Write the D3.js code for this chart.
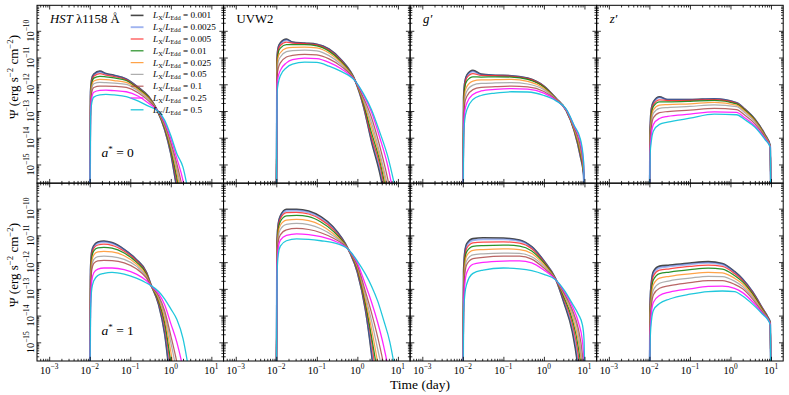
<!DOCTYPE html>
<html><head><meta charset="utf-8">
<script src="https://cdn.jsdelivr.net/npm/d3@7"></script>
<style>
body{margin:0;background:#fff}
svg{display:block}
text{font-family:"Liberation Serif","DejaVu Serif",serif;fill:#000}
</style>
</head><body>
<svg id="c" width="789" height="395"></svg>
<script>
// ---------------- DATA ----------------
const ratios = ["0.001","0.0025","0.005","0.01","0.025","0.05","0.1","0.25","0.5"];
const bands = ["HST λ1158 Å","UVW2","g′","z′"];
const spins = ["0","1"];
const xMajor = [1e-3,1e-2,1e-1,1,10];
const yMajor = [1e-15,1e-14,1e-13,1e-12,1e-11,1e-10];

// log10(time/day) grids and log10(Psi) values per panel (rows = ratios)
const gHST0 = [-2.0,-1.98,-1.95,-1.9,-1.75,-1.6,-1.4,-1.1,-0.8,-0.55,-0.34,-0.15,0.0,0.15,0.3,0.45];
const hstA0 = [
 [-17,-12.3,-11.8,-11.62,-11.51,-11.6,-11.66,-11.8,-12.12,-12.45,-12.96,-13.7,-14.6,-15.9,-17,-18],
 [-17,-12.35,-11.84,-11.65,-11.54,-11.62,-11.68,-11.81,-12.13,-12.46,-12.96,-13.68,-14.55,-15.8,-17,-18],
 [-17,-12.4,-11.9,-11.7,-11.6,-11.66,-11.71,-11.83,-12.15,-12.47,-12.96,-13.66,-14.5,-15.65,-17,-18],
 [-17,-12.45,-11.95,-11.77,-11.7,-11.72,-11.76,-11.86,-12.17,-12.49,-12.96,-13.63,-14.45,-15.5,-16.9,-18],
 [-17,-12.55,-12.05,-11.88,-11.82,-11.83,-11.86,-11.93,-12.21,-12.52,-12.96,-13.58,-14.35,-15.3,-16.6,-18],
 [-17,-12.65,-12.15,-11.98,-11.93,-11.94,-11.96,-12.0,-12.26,-12.56,-12.96,-13.54,-14.27,-15.15,-16.3,-17.8],
 [-17,-12.8,-12.3,-12.12,-12.07,-12.07,-12.08,-12.12,-12.33,-12.62,-12.96,-13.48,-14.17,-14.98,-16.0,-17.5],
 [-17,-13.0,-12.5,-12.3,-12.23,-12.22,-12.24,-12.28,-12.45,-12.71,-12.96,-13.42,-14.04,-14.78,-15.6,-17],
 [-17,-13.2,-12.7,-12.48,-12.4,-12.38,-12.4,-12.46,-12.63,-12.82,-12.97,-13.35,-13.92,-14.6,-15.1,-16.2]
];
const gUVW0 = [-2.0,-1.98,-1.95,-1.9,-1.75,-1.6,-1.3,-1.0,-0.7,-0.4,-0.05,0.15,0.35,0.55,0.75,0.95];
const uvwA0 = [
 [-17,-11.0,-10.6,-10.45,-10.31,-10.42,-10.46,-10.5,-10.68,-11.08,-11.88,-12.82,-14.15,-15.3,-16.8,-18],
 [-17,-11.05,-10.65,-10.5,-10.35,-10.44,-10.47,-10.51,-10.7,-11.1,-11.88,-12.8,-14.07,-15.15,-16.6,-18],
 [-17,-11.1,-10.7,-10.55,-10.42,-10.46,-10.48,-10.53,-10.72,-11.12,-11.88,-12.77,-13.98,-15.0,-16.5,-18],
 [-17,-11.2,-10.8,-10.65,-10.52,-10.52,-10.52,-10.56,-10.76,-11.15,-11.88,-12.72,-13.82,-14.85,-16.3,-18],
 [-17,-11.3,-10.95,-10.82,-10.65,-10.62,-10.61,-10.64,-10.83,-11.2,-11.88,-12.65,-13.62,-14.7,-16.05,-17.8],
 [-17,-11.5,-11.15,-10.98,-10.78,-10.74,-10.72,-10.75,-10.93,-11.26,-11.88,-12.58,-13.45,-14.55,-15.85,-17.5],
 [-17,-11.7,-11.4,-11.2,-10.98,-10.92,-10.88,-10.9,-11.05,-11.33,-11.88,-12.5,-13.25,-14.3,-15.55,-17.2],
 [-17,-12.0,-11.7,-11.48,-11.2,-11.08,-11.02,-11.04,-11.18,-11.42,-11.88,-12.4,-13.05,-13.98,-15.05,-16.6],
 [-17,-12.3,-11.95,-11.68,-11.38,-11.25,-11.17,-11.18,-11.32,-11.52,-11.88,-12.35,-12.95,-13.78,-14.7,-16.0]
];
const gG0 = [-2.0,-1.98,-1.95,-1.9,-1.75,-1.55,-1.2,-0.8,-0.4,0.0,0.3,0.55,0.75,0.9,0.98,1.0];
const gA0 = [
 [-17,-12.5,-11.9,-11.65,-11.48,-11.62,-11.66,-11.68,-11.77,-12.07,-12.53,-12.98,-13.75,-14.7,-15.4,-17],
 [-17,-12.55,-11.95,-11.7,-11.52,-11.64,-11.67,-11.69,-11.78,-12.07,-12.53,-12.98,-13.74,-14.67,-15.38,-17],
 [-17,-12.65,-12.0,-11.75,-11.6,-11.67,-11.68,-11.7,-11.79,-12.08,-12.53,-12.98,-13.73,-14.63,-15.35,-17],
 [-17,-12.75,-12.1,-11.87,-11.72,-11.73,-11.72,-11.73,-11.82,-12.1,-12.54,-12.97,-13.72,-14.58,-15.3,-17],
 [-17,-12.9,-12.3,-12.08,-11.88,-11.84,-11.83,-11.82,-11.89,-12.15,-12.55,-12.97,-13.7,-14.5,-15.25,-17],
 [-17,-13.1,-12.5,-12.25,-12.03,-11.97,-11.95,-11.94,-11.99,-12.2,-12.56,-12.96,-13.66,-14.4,-15.2,-17],
 [-17,-13.3,-12.7,-12.45,-12.2,-12.12,-12.09,-12.07,-12.1,-12.27,-12.58,-12.95,-13.62,-14.3,-15.1,-17],
 [-17,-13.6,-13.0,-12.7,-12.38,-12.25,-12.19,-12.16,-12.18,-12.33,-12.6,-12.95,-13.58,-14.15,-15.0,-17],
 [-17,-13.9,-13.3,-12.95,-12.57,-12.42,-12.33,-12.28,-12.29,-12.42,-12.62,-12.93,-13.55,-14.05,-14.9,-17]
];
const gZ0 = [-2.0,-1.98,-1.95,-1.9,-1.75,-1.55,-1.0,-0.4,0.15,0.35,0.6,0.85,0.98,1.0];
const zA0 = [
 [-17,-13.6,-12.9,-12.65,-12.47,-12.57,-12.57,-12.54,-12.69,-12.92,-13.3,-13.88,-14.3,-17],
 [-17,-13.7,-12.95,-12.7,-12.5,-12.58,-12.58,-12.55,-12.7,-12.93,-13.31,-13.89,-14.3,-17],
 [-17,-13.75,-13.0,-12.75,-12.58,-12.61,-12.6,-12.57,-12.71,-12.94,-13.32,-13.9,-14.31,-17],
 [-17,-13.85,-13.1,-12.83,-12.66,-12.66,-12.64,-12.6,-12.73,-12.96,-13.33,-13.91,-14.31,-17],
 [-17,-14.0,-13.25,-12.95,-12.78,-12.76,-12.73,-12.68,-12.78,-13.0,-13.36,-13.93,-14.32,-17],
 [-17,-14.1,-13.4,-13.08,-12.9,-12.87,-12.83,-12.77,-12.84,-13.06,-13.4,-13.96,-14.32,-17],
 [-17,-14.25,-13.6,-13.25,-13.06,-13.02,-12.97,-12.9,-12.95,-13.15,-13.47,-13.99,-14.33,-17],
 [-17,-14.4,-13.85,-13.5,-13.28,-13.2,-13.12,-13.03,-13.05,-13.25,-13.55,-14.03,-14.34,-17],
 [-17,-14.6,-14.1,-13.75,-13.5,-13.42,-13.27,-13.12,-13.14,-13.32,-13.6,-14.06,-14.35,-17]
];
const gHST1 = [-2.0,-1.98,-1.95,-1.9,-1.8,-1.65,-1.45,-1.15,-0.85,-0.6,-0.5,-0.3,-0.15,0.0,0.15,0.3,0.45];
const hstA1 = [
 [-17,-12.3,-11.6,-11.38,-11.25,-11.21,-11.27,-11.52,-11.9,-12.38,-12.8,-13.6,-14.7,-16.6,-18,-19,-20],
 [-17,-12.35,-11.65,-11.42,-11.29,-11.25,-11.3,-11.54,-11.92,-12.4,-12.81,-13.55,-14.6,-16.4,-18,-19,-20],
 [-17,-12.45,-11.72,-11.48,-11.36,-11.33,-11.37,-11.59,-11.95,-12.42,-12.82,-13.5,-14.4,-16.0,-17.8,-19,-20],
 [-17,-12.55,-11.82,-11.58,-11.47,-11.45,-11.48,-11.66,-12.0,-12.45,-12.83,-13.45,-14.27,-15.75,-17.5,-19,-20],
 [-17,-12.7,-11.98,-11.73,-11.62,-11.6,-11.62,-11.76,-12.07,-12.5,-12.84,-13.38,-14.1,-15.35,-16.9,-18.5,-20],
 [-17,-12.85,-12.15,-11.9,-11.79,-11.78,-11.79,-11.9,-12.15,-12.55,-12.85,-13.32,-13.95,-15.0,-16.2,-18,-20],
 [-17,-13.0,-12.3,-12.05,-11.95,-11.93,-11.94,-12.03,-12.25,-12.6,-12.86,-13.26,-13.83,-14.75,-15.75,-17,-18.5],
 [-17,-13.5,-12.7,-12.4,-12.26,-12.22,-12.22,-12.28,-12.45,-12.7,-12.86,-13.18,-13.6,-14.3,-15.0,-16.0,-17.5],
 [-17,-13.8,-13.0,-12.7,-12.5,-12.42,-12.38,-12.45,-12.6,-12.78,-12.87,-13.1,-13.38,-13.75,-14.15,-14.85,-16.1]
];
const gUVW1 = [-2.0,-1.98,-1.95,-1.9,-1.75,-1.5,-1.2,-0.9,-0.6,-0.22,0.0,0.2,0.35,0.5,0.65,0.8,0.95];
const uvwA1 = [
 [-17,-11.2,-10.55,-10.27,-10.02,-10.02,-10.09,-10.3,-10.68,-11.53,-12.38,-13.8,-15.45,-17.5,-19,-20,-21],
 [-17,-11.25,-10.6,-10.32,-10.08,-10.07,-10.14,-10.35,-10.72,-11.53,-12.35,-13.75,-15.3,-17.3,-19,-20,-21],
 [-17,-11.3,-10.66,-10.38,-10.15,-10.14,-10.2,-10.41,-10.77,-11.53,-12.3,-13.65,-14.95,-16.8,-18.5,-20,-21],
 [-17,-11.4,-10.75,-10.48,-10.27,-10.25,-10.3,-10.5,-10.84,-11.53,-12.25,-13.55,-14.8,-16.2,-18,-20,-21],
 [-17,-11.55,-10.88,-10.62,-10.43,-10.4,-10.45,-10.62,-10.93,-11.53,-12.2,-13.4,-14.5,-15.75,-17.2,-19,-21],
 [-17,-11.7,-11.03,-10.78,-10.59,-10.55,-10.6,-10.75,-11.01,-11.53,-12.15,-13.25,-14.2,-15.25,-16.35,-18,-20],
 [-17,-11.9,-11.22,-10.98,-10.79,-10.74,-10.78,-10.9,-11.1,-11.53,-12.1,-13.1,-13.9,-14.8,-15.85,-17.2,-19],
 [-17,-12.1,-11.45,-11.18,-11.0,-10.94,-10.97,-11.05,-11.19,-11.53,-12.03,-12.85,-13.5,-14.25,-15.15,-16.3,-18],
 [-17,-12.4,-11.7,-11.4,-11.2,-11.13,-11.15,-11.2,-11.27,-11.53,-11.96,-12.45,-12.9,-13.45,-14.18,-14.98,-16.2]
];
const gG1 = [-2.0,-1.98,-1.95,-1.9,-1.75,-1.5,-1.0,-0.6,-0.3,0.0,0.28,0.5,0.7,0.85,0.95,0.99,1.01];
const gA1 = [
 [-17,-12.3,-11.6,-11.3,-11.12,-11.09,-11.1,-11.17,-11.42,-11.95,-12.6,-13.55,-14.6,-16.1,-18,-19,-20],
 [-17,-12.4,-11.68,-11.37,-11.18,-11.15,-11.15,-11.21,-11.45,-11.96,-12.6,-13.48,-14.45,-15.8,-17.5,-18.5,-20],
 [-17,-12.5,-11.78,-11.47,-11.28,-11.25,-11.24,-11.29,-11.5,-11.99,-12.61,-13.4,-14.3,-15.5,-17,-18,-20],
 [-17,-12.6,-11.9,-11.6,-11.41,-11.38,-11.36,-11.4,-11.58,-12.03,-12.61,-13.33,-14.15,-15.2,-16.5,-17.5,-20],
 [-17,-12.8,-12.05,-11.75,-11.56,-11.53,-11.5,-11.53,-11.68,-12.09,-12.62,-13.25,-14.0,-14.95,-16.1,-17,-20],
 [-17,-13.0,-12.25,-11.93,-11.73,-11.69,-11.66,-11.67,-11.8,-12.15,-12.62,-13.2,-13.88,-14.7,-15.85,-16.5,-20],
 [-17,-13.2,-12.45,-12.08,-11.87,-11.82,-11.78,-11.78,-11.89,-12.22,-12.63,-13.15,-13.78,-14.5,-15.45,-16.2,-20],
 [-17,-13.5,-12.8,-12.38,-12.08,-12.01,-11.96,-11.95,-12.03,-12.3,-12.64,-13.1,-13.65,-14.25,-14.95,-15.9,-18],
 [-17,-13.9,-13.2,-12.8,-12.42,-12.3,-12.22,-12.25,-12.32,-12.46,-12.65,-13.05,-13.55,-13.95,-14.35,-14.9,-17]
];
const gZ1 = [-2.0,-1.98,-1.95,-1.9,-1.75,-1.5,-1.0,-0.55,-0.2,0.1,0.3,0.55,0.8,0.92,0.98,1.0];
const zA1 = [
 [-17,-13.4,-12.75,-12.35,-12.15,-12.11,-12.03,-11.98,-12.05,-12.35,-12.63,-13.12,-13.75,-14.05,-14.25,-17],
 [-17,-13.5,-12.82,-12.42,-12.21,-12.16,-12.08,-12.03,-12.09,-12.38,-12.65,-13.13,-13.76,-14.06,-14.26,-17],
 [-17,-13.6,-12.93,-12.52,-12.3,-12.25,-12.16,-12.11,-12.16,-12.43,-12.69,-13.16,-13.77,-14.07,-14.27,-17],
 [-17,-13.75,-13.07,-12.66,-12.43,-12.37,-12.28,-12.22,-12.26,-12.5,-12.74,-13.2,-13.8,-14.08,-14.28,-17],
 [-17,-13.9,-13.25,-12.84,-12.6,-12.53,-12.44,-12.38,-12.4,-12.6,-12.82,-13.26,-13.83,-14.1,-14.3,-17],
 [-17,-14.1,-13.45,-13.03,-12.79,-12.7,-12.6,-12.53,-12.54,-12.71,-12.91,-13.32,-13.86,-14.11,-14.31,-17],
 [-17,-14.3,-13.65,-13.22,-12.98,-12.88,-12.77,-12.69,-12.69,-12.83,-13.0,-13.39,-13.9,-14.12,-14.32,-17],
 [-17,-14.6,-13.9,-13.5,-13.25,-13.12,-13.0,-12.91,-12.9,-12.98,-13.14,-13.49,-13.93,-14.13,-14.33,-17],
 [-17,-14.9,-14.2,-13.8,-13.55,-13.38,-13.2,-13.1,-13.08,-13.1,-13.27,-13.58,-13.96,-14.15,-14.35,-17]
];

// ---------------- STYLE ----------------
const colors = ["#000000","#4169e1","#ff2a2a","#138613","#ff8c1a","#9a9a9a","#a83e3e","#ff1aff","#14c4da"];
const opac   = [0.72,0.5,0.85,0.9,0.8,0.8,0.8,0.95,0.95];
const widths = [1.6,1.9,1.25,1.25,1.25,1.25,1.25,1.3,1.3];

const svg = d3.select("#c");
const leftM = 37, topM = 5.3, pw = 186.55, ph = 177.85;
const xDomain = [5e-4, 20], yDomain = [2e-16, 9e-10];

const panels = [
 {row:0,col:0,grid:gHST0,vals:hstA0},{row:0,col:1,grid:gUVW0,vals:uvwA0},
 {row:0,col:2,grid:gG0,vals:gA0},{row:0,col:3,grid:gZ0,vals:zA0},
 {row:1,col:0,grid:gHST1,vals:hstA1},{row:1,col:1,grid:gUVW1,vals:uvwA1},
 {row:1,col:2,grid:gG1,vals:gA1},{row:1,col:3,grid:gZ1,vals:zA1}
];

const xMinor = [], yMinor = [];
for (let k=-4;k<=1;k++) for (let m=2;m<=9;m++){const v=m*Math.pow(10,k); if(v>xDomain[0]*1.0001&&v<xDomain[1]*0.9999) xMinor.push(v);}
for (let k=-16;k<=-10;k++) for (let m=2;m<=9;m++){const v=m*Math.pow(10,k); if(v>yDomain[0]*1.0001&&v<yDomain[1]*0.9999) yMinor.push(v);}

function supLabel(sel, v, fs){
  const e = Math.round(Math.log10(v));
  sel.append("tspan").text("10");
  sel.append("tspan").attr("font-size",fs*0.7).attr("dy",-fs*0.42).text(e<0?"−"+(-e):String(e));
}

const defs = svg.append("defs");
panels.forEach((p,i)=>{
  const x0 = leftM + p.col*pw, y0 = topM + p.row*ph;
  const x = d3.scaleLog().domain(xDomain).range([x0, x0+pw]);
  const y = d3.scaleLog().domain(yDomain).range([y0+ph, y0]);
  defs.append("clipPath").attr("id","clip"+i).append("rect")
    .attr("x",x0).attr("y",y0).attr("width",pw).attr("height",ph);
  const g = svg.append("g").attr("clip-path",`url(#clip${i})`);
  const line = d3.line().x(d=>x(d[0])).y(d=>y(d[1])).curve(d3.curveMonotoneX);
  p.vals.forEach((row,k)=>{
    const pts = p.grid.map((lt,j)=>[Math.pow(10,lt), Math.pow(10,row[j])]);
    g.append("path").attr("d",line(pts)).attr("fill","none")
      .attr("stroke",colors[k]).attr("stroke-opacity",opac[k]).attr("stroke-width",widths[k])
      .attr("stroke-linejoin","round");
  });
  // ticks (inward, all four sides)
  const ax = [
    [d3.axisBottom, x, `translate(0,${y0+ph})`, xMajor, xMinor],
    [d3.axisTop, x, `translate(0,${y0})`, xMajor, xMinor],
    [d3.axisLeft, y, `translate(${x0},0)`, yMajor, yMinor],
    [d3.axisRight, y, `translate(${x0+pw},0)`, yMajor, yMinor]
  ];
  ax.forEach(([fn, sc, tr, maj, min])=>{
    [[maj,4.2],[min,2.2]].forEach(([vals,len])=>{
      const a = svg.append("g").attr("transform",tr)
        .call(fn(sc).tickValues(vals).tickSize(-len).tickSizeOuter(0).tickFormat(""));
      a.select(".domain").remove();
      a.selectAll("line").attr("stroke","#000").attr("stroke-width",0.8);
      a.selectAll("text").remove();
    });
  });
  svg.append("rect").attr("x",x0).attr("y",y0).attr("width",pw).attr("height",ph)
    .attr("fill","none").attr("stroke","#000").attr("stroke-width",1);

  // x tick labels on bottom row
  if (p.row===1){
    xMajor.forEach(v=>{
      const t = svg.append("text").attr("x",x(v)).attr("y",373.5).attr("text-anchor","middle").attr("font-size",10.5);
      supLabel(t, v, 10.5);
    });
  }
  // y tick labels on first column
  if (p.col===0){
    yMajor.forEach(v=>{
      const t = svg.append("text").attr("transform",`translate(33.8,${y(v)}) rotate(-90)`)
        .attr("text-anchor","middle").attr("font-size",10.5);
      supLabel(t, v, 10.5);
    });
    const yt = svg.append("text").attr("transform",`translate(17.5,${p.row===0?77:265}) rotate(-90)`)
      .attr("text-anchor","middle").attr("font-size",13);
    yt.append("tspan").text("Ψ (erg s");
    yt.append("tspan").attr("font-size",8.8).attr("dy",-5).text("−2");
    yt.append("tspan").attr("dy",5).text(" cm");
    yt.append("tspan").attr("font-size",8.8).attr("dy",-5).text("−2");
    yt.append("tspan").attr("dy",5).text(")");
    // spin label
    const st = svg.append("text").attr("x",x0+64.5).attr("y",y0+152).attr("font-size",13.5);
    st.append("tspan").attr("font-style","italic").text("a");
    st.append("tspan").attr("font-size",9).attr("dy",-5).text("*");
    st.append("tspan").attr("dy",5).text(" = "+spins[p.row]);
  }
  // band titles (top row)
  if (p.row===0){
    const bt = svg.append("text").attr("x",x0+13).attr("y",y0+17.5).attr("font-size",12.8);
    if (p.col===0){
      bt.append("tspan").attr("font-style","italic").text("HST");
      bt.append("tspan").text(" λ1158 Å");
    } else if (p.col===1){
      bt.text(bands[1]);
    } else {
      bt.attr("font-style","italic").text(bands[p.col]);
    }
  }
});

// legend
const lx0 = 130.7, lx1 = 143.5, ly0 = 15.4, ldy = 11.8;
ratios.forEach((r,k)=>{
  const yy = ly0 + k*ldy;
  svg.append("line").attr("x1",lx0).attr("x2",lx1).attr("y1",yy).attr("y2",yy)
    .attr("stroke",colors[k]).attr("stroke-opacity",opac[k]).attr("stroke-width",widths[k]);
  const t = svg.append("text").attr("x",153).attr("y",yy+3).attr("font-size",9.2);
  t.append("tspan").attr("font-style","italic").text("L");
  t.append("tspan").attr("font-size",6.4).attr("dy",2).text("X");
  t.append("tspan").attr("dy",-2).text("/");
  t.append("tspan").attr("font-style","italic").text("L");
  t.append("tspan").attr("font-size",6.4).attr("dy",2).text("Edd");
  t.append("tspan").attr("dy",-2).text(" = "+r);
});

// x axis title
svg.append("text").attr("x",420).attr("y",389).attr("text-anchor","middle").attr("font-size",13.5).text("Time (day)");
</script>
</body></html>
